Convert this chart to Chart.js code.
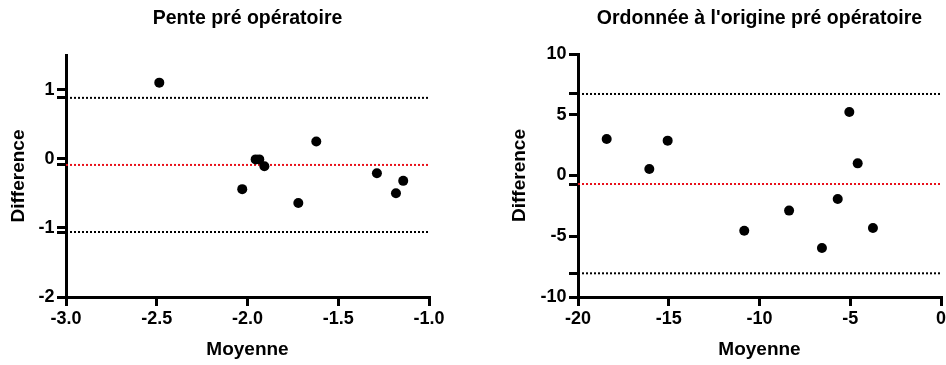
<!DOCTYPE html>
<html>
<head>
<meta charset="utf-8">
<script src="https://cdn.jsdelivr.net/npm/chart.js@4/dist/chart.umd.min.js"></script>
<style>
  html, body { margin: 0; padding: 0; background: #ffffff; }
  #wrap { position: relative; width: 946px; height: 365px; overflow: hidden; }
  .panel { position: absolute; top: 0; width: 473px; height: 365px; }
  #p1 { left: 0; }
  #p2 { left: 473px; }
</style>
</head>
<body>
<div id="wrap">
  <div class="panel" id="p1"><canvas id="c1" width="473" height="365"></canvas></div>
  <div class="panel" id="p2"><canvas id="c2" width="473" height="365"></canvas></div>
</div>
<script>
// ---- Left panel: Pente pré opératoire ----
const leftTitle = 'Pente pré opératoire';
const leftMean = [-2.486, -2.029, -1.955, -1.935, -1.907, -1.720, -1.621, -1.287, -1.182, -1.142];
const leftDiff = [1.10, -0.44, -0.01, -0.01, -0.11, -0.64, 0.25, -0.21, -0.50, -0.32];
const leftBias = -0.09;
const leftUpper = 0.88;
const leftLower = -1.06;
const leftXTicks = [-3.0, -2.5, -2.0, -1.5, -1.0];
const leftYTicks = [-2, -1, 0, 1];
const leftXRange = [-3.0, -1.0];
const leftYRange = [-2, 1.5];

// ---- Right panel: Ordonnée à l'origine pré opératoire ----
const rightTitle = "Ordonnée à l'origine pré opératoire";
const rightMean = [-18.42, -16.07, -15.06, -10.84, -8.37, -6.56, -5.69, -5.05, -4.59, -3.75];
const rightDiff = [3.00, 0.53, 2.87, -4.54, -2.89, -5.97, -1.93, 5.23, 1.00, -4.32];
const rightBias = -0.70;
const rightUpper = 6.71;
const rightLower = -8.05;
const rightXTicks = [-20, -15, -10, -5, 0];
const rightYTicks = [-10, -5, 0, 5, 10];
const rightXRange = [-20, 0];
const rightYRange = [-10, 10];

const xLabel = 'Moyenne';
const yLabel = 'Difference';

const FONT = '"Liberation Sans", Arial, Helvetica, sans-serif';

function hLine(xr, v, color) {
  return {
    type: 'line',
    data: [{x: xr[0], y: v}, {x: xr[1], y: v}],
    borderColor: color,
    borderWidth: 2,
    borderDash: [2, 2],
    borderCapStyle: 'butt',
    pointRadius: 0,
    fill: false,
    order: 2
  };
}

function makeChart(id, o) {
  const pts = o.mean.map((m, i) => ({x: m, y: o.diff[i]}));
  const yAll = o.yTicks.concat([o.upper, o.bias, o.lower]);
  return new Chart(document.getElementById(id), {
    type: 'scatter',
    data: {
      datasets: [
        {
          data: pts,
          backgroundColor: '#000000',
          borderColor: '#000000',
          borderWidth: 0,
          pointRadius: 5,
          order: 0
        },
        hLine(o.xRange, o.upper, '#000000'),
        hLine(o.xRange, o.bias, '#e8101a'),
        hLine(o.xRange, o.lower, '#000000')
      ]
    },
    options: {
      responsive: false,
      animation: false,
      devicePixelRatio: 1,
      layout: { padding: { left: 0, right: o.padRight, top: 0, bottom: 0 } },
      plugins: {
        legend: { display: false },
        tooltip: { enabled: false },
        title: {
          display: true,
          text: o.title,
          fullSize: false,
          color: '#000000',
          font: { family: FONT, size: 19.5, weight: 'bold' },
          padding: { top: 7.3, bottom: o.titlePadBottom }
        }
      },
      scales: {
        x: {
          type: 'linear',
          min: o.xRange[0],
          max: o.xRange[1],
          afterBuildTicks: (s) => { s.ticks = o.xTicks.map(v => ({value: v})); },
          afterFit: (s) => { s.height = 68; s.paddingLeft = 0; s.paddingRight = 0; },
          ticks: {
            autoSkip: false,
            maxRotation: 0,
            color: '#000000',
            padding: 2,
            font: { family: FONT, size: 18, weight: 'bold' },
            callback: (v) => o.xFmt(v)
          },
          grid: {
            drawOnChartArea: false,
            drawTicks: true,
            tickLength: 9,
            color: '#000000',
            lineWidth: 3,
            tickWidth: 3
          },
          border: { display: true, color: '#000000', width: 3 },
          title: {
            display: true,
            text: xLabel,
            color: '#000000',
            font: { family: FONT, size: 19, weight: 'bold' },
            padding: { top: 0, bottom: 4 }
          }
        },
        y: {
          type: 'linear',
          min: o.yRange[0],
          max: o.yRange[1],
          afterBuildTicks: (s) => { s.ticks = yAll.map(v => ({value: v})); },
          afterFit: (s) => { s.width = o.yWidth; s.paddingTop = 0; s.paddingBottom = 0; },
          ticks: {
            autoSkip: false,
            color: '#000000',
            padding: 2.5,
            font: { family: FONT, size: 18, weight: 'bold' },
            callback: (v) => (o.yTicks.indexOf(v) >= 0 ? String(v) : '')
          },
          grid: {
            drawOnChartArea: false,
            drawTicks: true,
            tickLength: 9,
            color: '#000000',
            lineWidth: 3,
            tickWidth: 3
          },
          border: { display: true, color: '#000000', width: 3 },
          title: {
            display: true,
            text: yLabel,
            color: '#000000',
            font: { family: FONT, size: 19, weight: 'bold' },
            padding: { top: o.yTitlePad, bottom: 0 }
          }
        }
      }
    }
  });
}

makeChart('c1', {
  title: leftTitle, mean: leftMean, diff: leftDiff,
  bias: leftBias, upper: leftUpper, lower: leftLower,
  xTicks: leftXTicks, yTicks: leftYTicks, xRange: leftXRange, yRange: leftYRange,
  xFmt: (v) => v.toFixed(1),
  padRight: 44, yWidth: 66, titlePadBottom: 24.3, yTitlePad: 7.5
});

makeChart('c2', {
  title: rightTitle, mean: rightMean, diff: rightDiff,
  bias: rightBias, upper: rightUpper, lower: rightLower,
  xTicks: rightXTicks, yTicks: rightYTicks, xRange: rightXRange, yRange: rightYRange,
  xFmt: (v) => String(v),
  padRight: 5, yWidth: 105, titlePadBottom: 23.3, yTitlePad: 35
});
</script>
</body>
</html>
